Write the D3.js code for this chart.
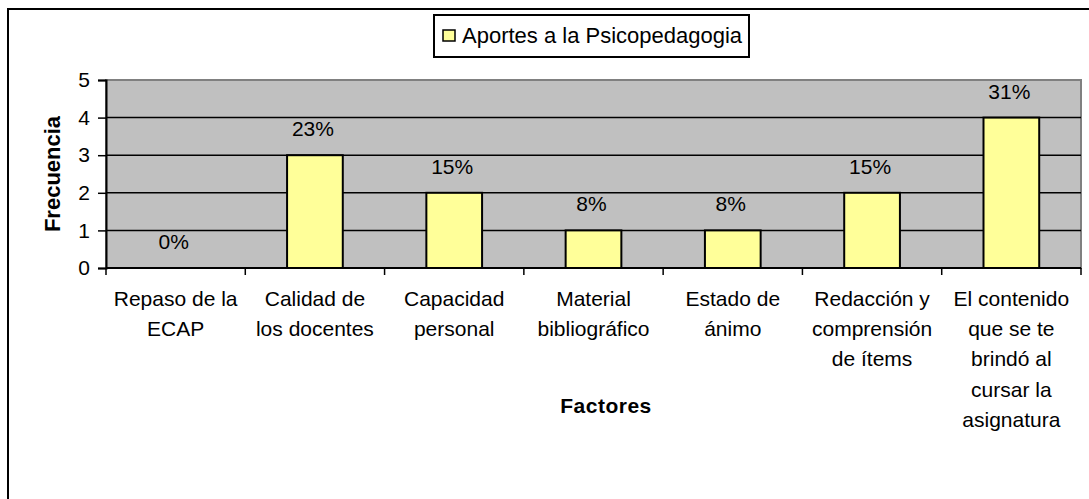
<!DOCTYPE html>
<html>
<head>
<meta charset="utf-8">
<script src="https://cdn.jsdelivr.net/npm/d3@7"></script>
<style>
body { margin: 0; background: white; }
svg { font-family: "Liberation Sans", Arial, sans-serif; }
</style>
</head>
<body>
<div id="chart"></div>
<script>
// data
var categories = ["Repaso de la ECAP", "Calidad de los docentes", "Capacidad personal",
    "Material bibliográfico", "Estado de ánimo", "Redacción y comprensión de ítems",
    "El contenido que se te brindó al cursar la asignatura"];
var labelLines = [
    ["Repaso de la", "ECAP"],
    ["Calidad de", "los docentes"],
    ["Capacidad", "personal"],
    ["Material", "bibliográfico"],
    ["Estado de", "ánimo"],
    ["Redacción y", "comprensión", "de ítems"],
    ["El contenido", "que se te", "brindó al", "cursar la", "asignatura"]
];
var values = [0, 3, 2, 1, 1, 2, 4];
var percents = ["0%", "23%", "15%", "8%", "8%", "15%", "31%"];
var yTicks = [0, 1, 2, 3, 4, 5];
var seriesName = "Aportes a la Psicopedagogia";

width = 1089;
height = 499;
plotLeft = 106;
plotRight = 1081;
plotTop = 80;
plotBottom = 268;

svg = d3.select("#chart").append("svg")
    .attr("width", width)
    .attr("height", height);

// outer chart frame (runs off the right and bottom edges)
svg.append("rect")
    .attr("x", 8)
    .attr("y", 9)
    .attr("width", 1200)
    .attr("height", 600)
    .style("fill", "white")
    .style("stroke", "black")
    .style("stroke-width", 2);

x = d3.scaleBand()
    .domain(categories)
    .range([plotLeft, plotRight])
    .paddingInner(0.6)
    .paddingOuter(0.3);

y = d3.scaleLinear()
    .domain([0, 5])
    .range([plotBottom, plotTop]);

step = x.step();

// plot area
svg.append("rect")
    .attr("x", plotLeft)
    .attr("y", plotTop)
    .attr("width", plotRight - plotLeft)
    .attr("height", plotBottom - plotTop)
    .style("fill", "#c0c0c0")
    .style("stroke", "#808080")
    .style("stroke-width", 2);

// gridlines
svg.append("g")
    .selectAll("line")
    .data(yTicks.slice(1, -1))
    .enter().append("line")
    .attr("x1", plotLeft)
    .attr("x2", plotRight)
    .attr("y1", function(d) { return y(d); })
    .attr("y2", function(d) { return y(d); })
    .style("stroke", "black")
    .style("stroke-width", 1.5);

// bars
svg.append("g")
    .selectAll("rect")
    .data(values)
    .enter().append("rect")
    .attr("x", function(d, i) { return x(categories[i]); })
    .attr("y", function(d) { return y(d); })
    .attr("width", x.bandwidth())
    .attr("height", function(d) { return y(0) - y(d); })
    .style("fill", "#ffff99")
    .style("stroke", "black")
    .style("stroke-width", 2)
    .style("display", function(d) { return d > 0 ? null : "none"; });

// y axis
yAxis = svg.append("g")
    .attr("transform", "translate(" + plotLeft + ",0)")
    .call(d3.axisLeft(y).tickValues(yTicks).tickFormat(d3.format("d")).tickSize(8).tickPadding(8));
yAxis.select(".domain").style("stroke", "black").style("stroke-width", 2);
yAxis.selectAll(".tick line").style("stroke", "black").style("stroke-width", 1.5);
yAxis.selectAll(".tick text")
    .style("font-size", "21px")
    .style("font-family", "Liberation Sans, Arial, sans-serif")
    .style("fill", "black");

// x axis line and ticks between categories
svg.append("line")
    .attr("x1", plotLeft)
    .attr("x2", plotRight)
    .attr("y1", plotBottom)
    .attr("y2", plotBottom)
    .style("stroke", "black")
    .style("stroke-width", 2);

var boundaries = categories.map(function(c) { return x(c) - step * 0.3; });
boundaries.push(plotRight);
svg.append("g")
    .selectAll("line")
    .data(boundaries)
    .enter().append("line")
    .attr("x1", function(d) { return d; })
    .attr("x2", function(d) { return d; })
    .attr("y1", plotBottom)
    .attr("y2", plotBottom + 7)
    .style("stroke", "black")
    .style("stroke-width", 1.5);

// category labels
labels = svg.append("g")
    .selectAll("text")
    .data(labelLines)
    .enter().append("text")
    .attr("text-anchor", "middle")
    .style("font-size", "21px")
    .style("fill", "black");
labels.selectAll("tspan")
    .data(function(d, i) { return d.map(function(t) { return { t: t, i: i }; }); })
    .enter().append("tspan")
    .attr("x", function(d) { return x(categories[d.i]) + x.bandwidth() / 2; })
    .attr("y", function(d, j) { return 306 + j * 30.2; })
    .text(function(d) { return d.t; });

// data labels
svg.append("g")
    .selectAll("text")
    .data(values)
    .enter().append("text")
    .attr("x", function(d, i) { return x(categories[i]) + x.bandwidth() / 2 - 2; })
    .attr("y", function(d) { return y(d) - 19; })
    .attr("text-anchor", "middle")
    .style("font-size", "21px")
    .style("fill", "black")
    .text(function(d, i) { return percents[i]; });

// axis titles
svg.append("text")
    .attr("x", 606)
    .attr("y", 413)
    .attr("text-anchor", "middle")
    .style("font-size", "21px")
    .style("font-weight", "bold")
    .style("letter-spacing", "0.5px")
    .text("Factores");

svg.append("text")
    .attr("transform", "translate(60," + ((plotTop + plotBottom) / 2) + ") rotate(-90)")
    .attr("text-anchor", "middle")
    .style("font-size", "22px")
    .style("font-weight", "bold")
    .text("Frecuencia");

// legend
legend = svg.append("g");
legend.append("rect")
    .attr("x", 434)
    .attr("y", 15)
    .attr("width", 315)
    .attr("height", 42)
    .style("fill", "white")
    .style("stroke", "black")
    .style("stroke-width", 2);
legend.append("rect")
    .attr("x", 443)
    .attr("y", 30)
    .attr("width", 12)
    .attr("height", 11)
    .style("fill", "#ffff99")
    .style("stroke", "black")
    .style("stroke-width", 1.5);
legend.append("text")
    .attr("x", 462)
    .attr("y", 43)
    .style("font-size", "22px")
    .text(seriesName);
</script>
</body>
</html>
